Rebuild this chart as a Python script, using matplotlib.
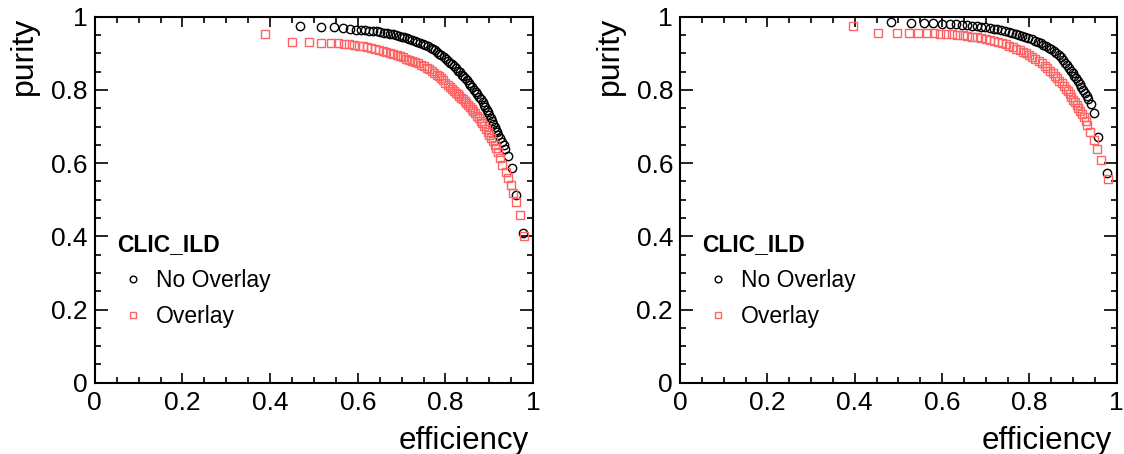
import matplotlib
matplotlib.use('Agg')
import matplotlib.pyplot as plt
from matplotlib.ticker import MultipleLocator

plt.rcParams['font.family'] = ['Liberation Sans', 'DejaVu Sans']

# ---------- datos ----------
# panel izquierdo
eff_izq_sin = [0.468, 0.515, 0.545, 0.567, 0.582, 0.596, 0.607, 0.617, 0.626, 0.635,
               0.643, 0.651, 0.659, 0.666, 0.673, 0.680, 0.687, 0.694, 0.700, 0.706,
               0.712, 0.718, 0.724, 0.730, 0.736, 0.742, 0.748, 0.754, 0.760, 0.766,
               0.771, 0.776, 0.781, 0.786, 0.791, 0.796, 0.801, 0.806, 0.811, 0.816,
               0.820, 0.825, 0.829, 0.833, 0.837, 0.841, 0.845, 0.849, 0.853, 0.857,
               0.861, 0.865, 0.869, 0.873, 0.877, 0.881, 0.885, 0.888, 0.891, 0.894,
               0.897, 0.900, 0.903, 0.906, 0.909, 0.912, 0.915, 0.918, 0.921, 0.925,
               0.929, 0.933, 0.937, 0.942, 0.951, 0.961, 0.976]
pur_izq_sin = [0.975, 0.973, 0.971, 0.969, 0.966, 0.965, 0.964, 0.963, 0.962, 0.961,
               0.960, 0.958, 0.957, 0.956, 0.954, 0.952, 0.950, 0.948, 0.946, 0.944,
               0.942, 0.940, 0.937, 0.935, 0.932, 0.929, 0.926, 0.923, 0.919, 0.915,
               0.912, 0.908, 0.904, 0.899, 0.895, 0.890, 0.885, 0.880, 0.875, 0.870,
               0.865, 0.859, 0.853, 0.848, 0.842, 0.837, 0.832, 0.826, 0.820, 0.814,
               0.808, 0.801, 0.795, 0.788, 0.781, 0.774, 0.767, 0.760, 0.753, 0.746,
               0.739, 0.731, 0.723, 0.716, 0.708, 0.700, 0.692, 0.684, 0.677, 0.668,
               0.659, 0.650, 0.640, 0.620, 0.587, 0.512, 0.410]

eff_izq_con = [0.389, 0.451, 0.489, 0.517, 0.539, 0.555, 0.568, 0.580, 0.591, 0.602,
               0.612, 0.622, 0.631, 0.640, 0.649, 0.657, 0.665, 0.673, 0.681, 0.689,
               0.696, 0.703, 0.710, 0.717, 0.724, 0.731, 0.738, 0.745, 0.751, 0.757,
               0.763, 0.769, 0.775, 0.780, 0.785, 0.790, 0.795, 0.800, 0.805, 0.810,
               0.815, 0.820, 0.824, 0.828, 0.832, 0.836, 0.840, 0.844, 0.848, 0.852,
               0.856, 0.860, 0.864, 0.868, 0.872, 0.876, 0.880, 0.884, 0.888, 0.892,
               0.896, 0.900, 0.904, 0.908, 0.912, 0.916, 0.920, 0.925, 0.930, 0.938,
               0.943, 0.949, 0.955, 0.961, 0.970, 0.980]
pur_izq_con = [0.953, 0.930, 0.930, 0.929, 0.928, 0.928, 0.926, 0.925, 0.923, 0.921,
               0.919, 0.917, 0.914, 0.912, 0.909, 0.907, 0.904, 0.901, 0.898, 0.895,
               0.892, 0.889, 0.886, 0.883, 0.880, 0.877, 0.873, 0.869, 0.865, 0.861,
               0.857, 0.852, 0.847, 0.842, 0.837, 0.832, 0.826, 0.820, 0.814, 0.808,
               0.802, 0.797, 0.792, 0.788, 0.784, 0.779, 0.775, 0.770, 0.765, 0.760,
               0.754, 0.748, 0.742, 0.736, 0.730, 0.723, 0.716, 0.709, 0.702, 0.694,
               0.686, 0.678, 0.669, 0.660, 0.651, 0.641, 0.630, 0.613, 0.596, 0.577,
               0.559, 0.540, 0.518, 0.493, 0.457, 0.402]

# panel derecho
eff_der_sin = [0.483, 0.528, 0.559, 0.580, 0.599, 0.618, 0.632, 0.645, 0.657, 0.668,
               0.679, 0.689, 0.699, 0.709, 0.718, 0.727, 0.736, 0.745, 0.753, 0.761,
               0.769, 0.777, 0.784, 0.791, 0.798, 0.805, 0.812, 0.819, 0.826, 0.832,
               0.838, 0.844, 0.850, 0.856, 0.862, 0.867, 0.872, 0.877, 0.882, 0.887,
               0.891, 0.895, 0.899, 0.903, 0.907, 0.911, 0.915, 0.919, 0.923, 0.927,
               0.931, 0.935, 0.941, 0.949, 0.958, 0.977]
pur_der_sin = [0.986, 0.984, 0.982, 0.982, 0.980, 0.980, 0.979, 0.978, 0.977, 0.976,
               0.974, 0.973, 0.972, 0.970, 0.968, 0.966, 0.964, 0.962, 0.959, 0.957,
               0.954, 0.951, 0.948, 0.945, 0.942, 0.939, 0.935, 0.931, 0.928, 0.924,
               0.920, 0.916, 0.911, 0.906, 0.901, 0.895, 0.889, 0.882, 0.875, 0.867,
               0.860, 0.853, 0.846, 0.839, 0.832, 0.824, 0.816, 0.808, 0.800, 0.792,
               0.784, 0.775, 0.761, 0.736, 0.671, 0.572]

eff_der_con = [0.396, 0.454, 0.496, 0.524, 0.546, 0.565, 0.581, 0.596, 0.610, 0.623,
               0.635, 0.647, 0.658, 0.669, 0.680, 0.690, 0.700, 0.710, 0.719, 0.728,
               0.737, 0.746, 0.754, 0.762, 0.770, 0.778, 0.786, 0.793, 0.800, 0.807,
               0.814, 0.821, 0.828, 0.835, 0.841, 0.847, 0.853, 0.859, 0.864, 0.869,
               0.874, 0.879, 0.884, 0.888, 0.892, 0.896, 0.900, 0.904, 0.908, 0.912,
               0.916, 0.920, 0.924, 0.929, 0.933, 0.940, 0.947, 0.956, 0.965, 0.979]
pur_der_con = [0.975, 0.957, 0.957, 0.957, 0.957, 0.956, 0.955, 0.954, 0.953, 0.952,
               0.951, 0.950, 0.948, 0.946, 0.944, 0.942, 0.940, 0.937, 0.934, 0.931,
               0.928, 0.925, 0.921, 0.917, 0.913, 0.909, 0.904, 0.900, 0.896, 0.891,
               0.885, 0.879, 0.873, 0.866, 0.860, 0.853, 0.846, 0.839, 0.832, 0.825,
               0.818, 0.811, 0.803, 0.796, 0.789, 0.781, 0.773, 0.766, 0.758, 0.750,
               0.742, 0.734, 0.725, 0.715, 0.704, 0.686, 0.663, 0.640, 0.608, 0.558]

marcas = [0, 0.2, 0.4, 0.6, 0.8, 1]
etiquetas = ['0', '0.2', '0.4', '0.6', '0.8', '1']
rojo = '#ff6464'

paneles = [(eff_izq_sin, pur_izq_sin, eff_izq_con, pur_izq_con),
           (eff_der_sin, pur_der_sin, eff_der_con, pur_der_con)]
izquierdas = [0.0843, 0.6050]
anchos = [0.390, 0.3885]

fig = plt.figure(figsize=(11.24, 4.54), dpi=100)
for i in range(2):
    ax = fig.add_axes([izquierdas[i], 0.157, anchos[i], 0.806])
    e_sin, p_sin, e_con, p_con = paneles[i]
    ax.plot(e_sin, p_sin, 'o', ls='none', mfc='none', mec='black', ms=6.0, mew=1.0,
            label='No Overlay')
    ax.plot(e_con, p_con, 's', ls='none', mfc='none', mec=rojo, ms=5.6, mew=1.0,
            label='Overlay')
    ax.set_xlim(0, 1)
    ax.set_ylim(0, 1)
    ax.set_xticks(marcas)
    ax.set_xticklabels(etiquetas)
    ax.set_yticks(marcas)
    ax.set_yticklabels(etiquetas)
    ax.xaxis.set_minor_locator(MultipleLocator(0.05))
    ax.yaxis.set_minor_locator(MultipleLocator(0.05))
    ax.tick_params(which='both', direction='in', top=True, right=True, width=1.2,
                   labelsize=19)
    ax.tick_params(axis='x', which='major', length=7.5, pad=6)
    ax.tick_params(axis='y', which='major', length=9.5, pad=5)
    ax.tick_params(which='minor', length=4.5)
    for lado in ax.spines.values():
        lado.set_linewidth(1.5)
    ax.set_xlabel('efficiency', fontsize=22.5, loc='right')
    ax.xaxis.set_label_coords(0.99, -0.118)
    ax.set_ylabel('purity', fontsize=23, loc='top')
    ax.yaxis.set_label_coords(-0.127, 1.0)
    ax.legend(title='CLIC_ILD', loc='upper left', bbox_to_anchor=(0.051, 0.409),
              frameon=False, fontsize=16.5, markerscale=0.8, handlelength=1.4,
              handletextpad=0.3, labelspacing=0.56, alignment='left',
              borderpad=0, borderaxespad=0,
              title_fontproperties={'weight': 'bold', 'size': 16.5})

fig.savefig('out.png', dpi=100)
